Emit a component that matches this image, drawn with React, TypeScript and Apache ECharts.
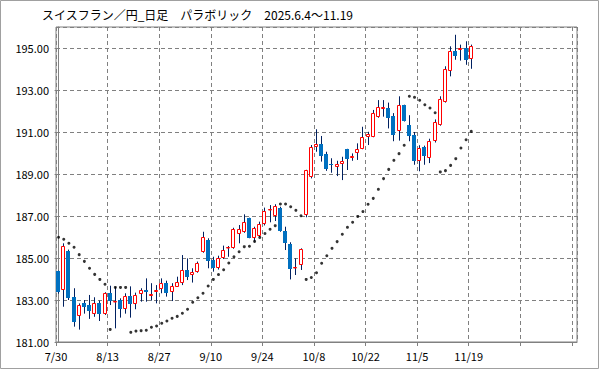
import React, { useEffect, useRef } from "react";
import * as echarts from "echarts";

const title = "スイスフラン／円_日足　パラボリック　2025.6.4～11.19";
const xTickLabels = ["7/30", "8/13", "8/27", "9/10", "9/24", "10/8", "10/22", "11/5", "11/19"];
const totalSlots = 101;

const opens = [
  184.38, 183.46, 185.33, 183.14, 182.22, 182.84, 182.76, 182.32, 182.86, 182.35,
  183.32, 182.90, 183.00, 182.56, 183.19, 182.79, 183.27, 183.46, 183.20, 183.37,
  183.51, 183.80, 183.37, 183.63, 183.80, 184.41, 184.17, 184.32, 185.27, 185.86,
  184.90, 184.51, 184.98, 185.46, 185.46, 186.13, 186.22, 186.89, 185.97, 186.05,
  186.60, 187.27, 187.01, 187.37, 186.29, 185.67, 184.52, 184.67, 187.06, 188.87,
  190.30, 190.43, 189.95, 189.48, 189.32, 189.46, 190.19, 189.75, 189.98, 190.21,
  190.75, 190.78, 191.70, 192.11, 192.13, 191.75, 191.03, 192.27, 191.32, 190.86,
  189.60, 190.29, 189.76, 190.56, 191.32, 192.41, 193.92, 194.84, 194.92, 195.00,
  194.49,
];
const closes = [
  183.37, 185.59, 183.11, 181.97, 182.76, 182.67, 182.49, 182.86, 182.35, 183.32,
  182.97, 182.95, 182.56, 183.17, 182.79, 183.24, 183.46, 183.40, 183.27, 183.46,
  183.80, 183.35, 183.67, 183.84, 184.43, 184.10, 184.32, 184.75, 185.99, 184.87,
  184.51, 184.98, 185.38, 185.52, 186.38, 186.38, 186.70, 185.97, 186.41, 186.60,
  187.24, 187.33, 187.46, 186.30, 185.73, 184.46, 184.59, 185.41, 189.18, 190.27,
  190.43, 189.87, 189.22, 189.41, 189.48, 189.62, 189.71, 189.86, 190.19, 190.75,
  190.90, 191.89, 192.17, 192.17, 191.65, 190.87, 192.27, 191.54, 190.82, 189.60,
  190.22, 189.84, 190.56, 191.46, 192.57, 194.00, 194.84, 194.60, 194.98, 194.44,
  195.08,
];
const lows = [
  183.30, 182.68, 183.00, 181.73, 181.59, 182.35, 182.10, 182.20, 182.00, 182.29,
  182.76, 181.65, 182.16, 182.35, 182.16, 182.56, 182.92, 182.92, 182.97, 182.84,
  183.32, 183.16, 182.95, 183.63, 183.71, 183.95, 183.83, 184.30, 185.25, 184.51,
  184.35, 184.45, 184.95, 185.06, 185.44, 185.70, 186.20, 185.94, 185.78, 186.00,
  186.55, 186.70, 186.76, 186.25, 185.38, 183.98, 184.19, 184.43, 186.94, 188.79,
  190.06, 189.59, 189.15, 189.06, 188.90, 188.71, 189.19, 189.63, 189.67, 190.18,
  190.38, 190.75, 191.68, 191.73, 191.17, 190.56, 190.59, 191.50, 190.56, 189.44,
  189.13, 189.44, 189.52, 190.50, 191.30, 192.40, 193.65, 194.44, 194.40, 194.20,
  194.01,
];
const highs = [
  184.40, 185.70, 185.40, 183.56, 182.84, 183.00, 183.24, 183.13, 182.97, 183.37,
  183.68, 183.63, 183.08, 183.32, 183.65, 183.35, 183.56, 184.03, 183.80, 183.71,
  184.03, 183.92, 183.80, 184.11, 185.14, 184.98, 184.51, 184.83, 186.25, 185.94,
  185.06, 185.11, 185.59, 185.57, 186.44, 186.57, 187.08, 186.92, 186.49, 186.73,
  187.40, 187.52, 187.56, 187.44, 186.49, 185.75, 184.98, 185.46, 189.20, 190.38,
  191.13, 190.81, 190.06, 189.75, 189.63, 189.82, 190.20, 189.98, 190.46, 191.25,
  191.01, 192.05, 192.52, 192.52, 192.40, 191.90, 192.70, 192.30, 191.80, 191.00,
  190.37, 190.35, 190.68, 191.60, 192.70, 194.13, 195.08, 195.63, 195.16, 195.32,
  195.16,
];
const sar = [
  185.99, 185.89, 185.70, 185.51, 185.16, 184.84, 184.51, 184.22, 183.98, 183.75,
  181.60, 183.60, 183.60, 183.60, 181.46, 181.52, 181.54, 181.56, 181.70, 181.76,
  181.89, 182.00, 182.13, 182.22, 182.37, 182.56, 182.89, 183.11, 183.32, 183.67,
  183.98, 184.21, 184.44, 184.76, 185.06, 185.30, 185.54, 185.56, 185.79, 185.98,
  186.17, 186.37, 186.54, 187.57, 187.57, 187.44, 187.27, 187.01, 183.98, 184.07,
  184.30, 184.75, 185.11, 185.46, 185.78, 186.13, 186.46, 186.70, 186.98, 187.21,
  187.56, 187.84, 188.27, 188.78, 189.22, 189.65, 189.97, 190.37, 192.70, 192.65,
  192.51, 192.30, 192.14, 191.92, 189.10, 189.16, 189.41, 189.73, 190.24, 190.63,
  191.03,
];

const UP = "#ff0000";
const DOWN = "#0070c0";
const WICK = "#002060";
const GRID = "#808080";

export default function App() {
  const ref = useRef<HTMLDivElement>(null);
  useEffect(() => {
    if (!ref.current) return;
    const chart = echarts.init(ref.current, null, { renderer: "svg" });
    const candles = opens.map((o, i) => [i, o, closes[i], lows[i], highs[i]]);
    const sarData = sar.map((v, i) => [i, v]);
    chart.setOption({
      animation: false,
      backgroundColor: "#ffffff",
      grid: {
        left: 56,
        right: 22,
        top: 27,
        bottom: 27,
        show: true,
        borderColor: GRID,
        borderWidth: 1,
        backgroundColor: "transparent",
      },
      graphic: [
        {
          type: "rect",
          shape: { x: 0.5, y: 0.5, width: 598, height: 368 },
          style: { fill: "none", stroke: "#a0a0a0", lineWidth: 1 },
          silent: true,
        },
        {
          type: "text",
          left: 42,
          top: 8,
          style: {
            text: title,
            font: '12px "Noto Sans CJK JP"',
            fill: "#000000",
          },
        },
      ],
      xAxis: {
        type: "value",
        min: -0.5,
        max: totalSlots - 0.5,
        interval: 10,
        axisLine: { show: true, lineStyle: { color: GRID } },
        axisTick: { show: true, length: 4, lineStyle: { color: GRID } },
        axisLabel: {
          color: "#000000",
          fontSize: 11,
          fontFamily: '"Noto Sans CJK JP"',
          margin: 8,
          showMaxLabel: false,
          formatter: (v: number) => {
            const k = Math.round((v + 0.5) / 10);
            return xTickLabels[k] ?? "";
          },
        },
        splitLine: { show: true, lineStyle: { color: GRID, type: [4, 3], width: 1 } },
      },
      yAxis: {
        type: "value",
        min: 181,
        max: 196,
        interval: 2,
        axisLine: { show: true, lineStyle: { color: GRID } },
        axisTick: { show: true, length: 4, lineStyle: { color: GRID } },
        axisLabel: {
          color: "#000000",
          fontSize: 11,
          fontFamily: '"Noto Sans CJK JP"',
          margin: 7,
          showMaxLabel: false,
          formatter: (v: number) => v.toFixed(2),
        },
        splitLine: { show: true, lineStyle: { color: GRID, type: [4, 3], width: 1 } },
      },
      series: [
        {
          type: "custom",
          data: candles,
          encode: { x: 0, y: [1, 2, 3, 4] },
          renderItem: (params: any, api: any) => {
            const i = api.value(0);
            const o = api.value(1);
            const c = api.value(2);
            const l = api.value(3);
            const h = api.value(4);
            const pO = api.coord([i, o]);
            const pC = api.coord([i, c]);
            const pL = api.coord([i, l]);
            const pH = api.coord([i, h]);
            const n = Math.floor(pO[0]);
            const x = n + 0.5;
            let top = Math.round(Math.min(pO[1], pC[1]));
            let bot = Math.round(Math.max(pO[1], pC[1]));
            if (bot - top < 1) bot = top + 1;
            const up = c >= o;
            const body = up
              ? {
                  type: "rect",
                  shape: { x: n - 1.5, y: top + 0.5, width: 3, height: Math.max(bot - top - 1, 0.5) },
                  style: { fill: "#ffffff", stroke: UP, lineWidth: 1 },
                }
              : {
                  type: "rect",
                  shape: { x: n - 2, y: top, width: 4, height: bot - top },
                  style: { fill: DOWN },
                };
            return {
              type: "group",
              children: [
                {
                  type: "line",
                  shape: { x1: x, y1: pH[1], x2: x, y2: pL[1] },
                  style: { stroke: WICK, lineWidth: 1 },
                },
                body,
              ],
            };
          },
          z: 2,
        },
        {
          type: "scatter",
          data: sarData,
          symbol: "circle",
          symbolSize: 3,
          itemStyle: { color: "#000000" },
          z: 3,
        },
      ],
    });
    return () => chart.dispose();
  }, []);
  return (
    <div
      ref={ref}
      style={{ position: "absolute", left: 0, top: 0, width: 599, height: 369 }}
    />
  );
}
